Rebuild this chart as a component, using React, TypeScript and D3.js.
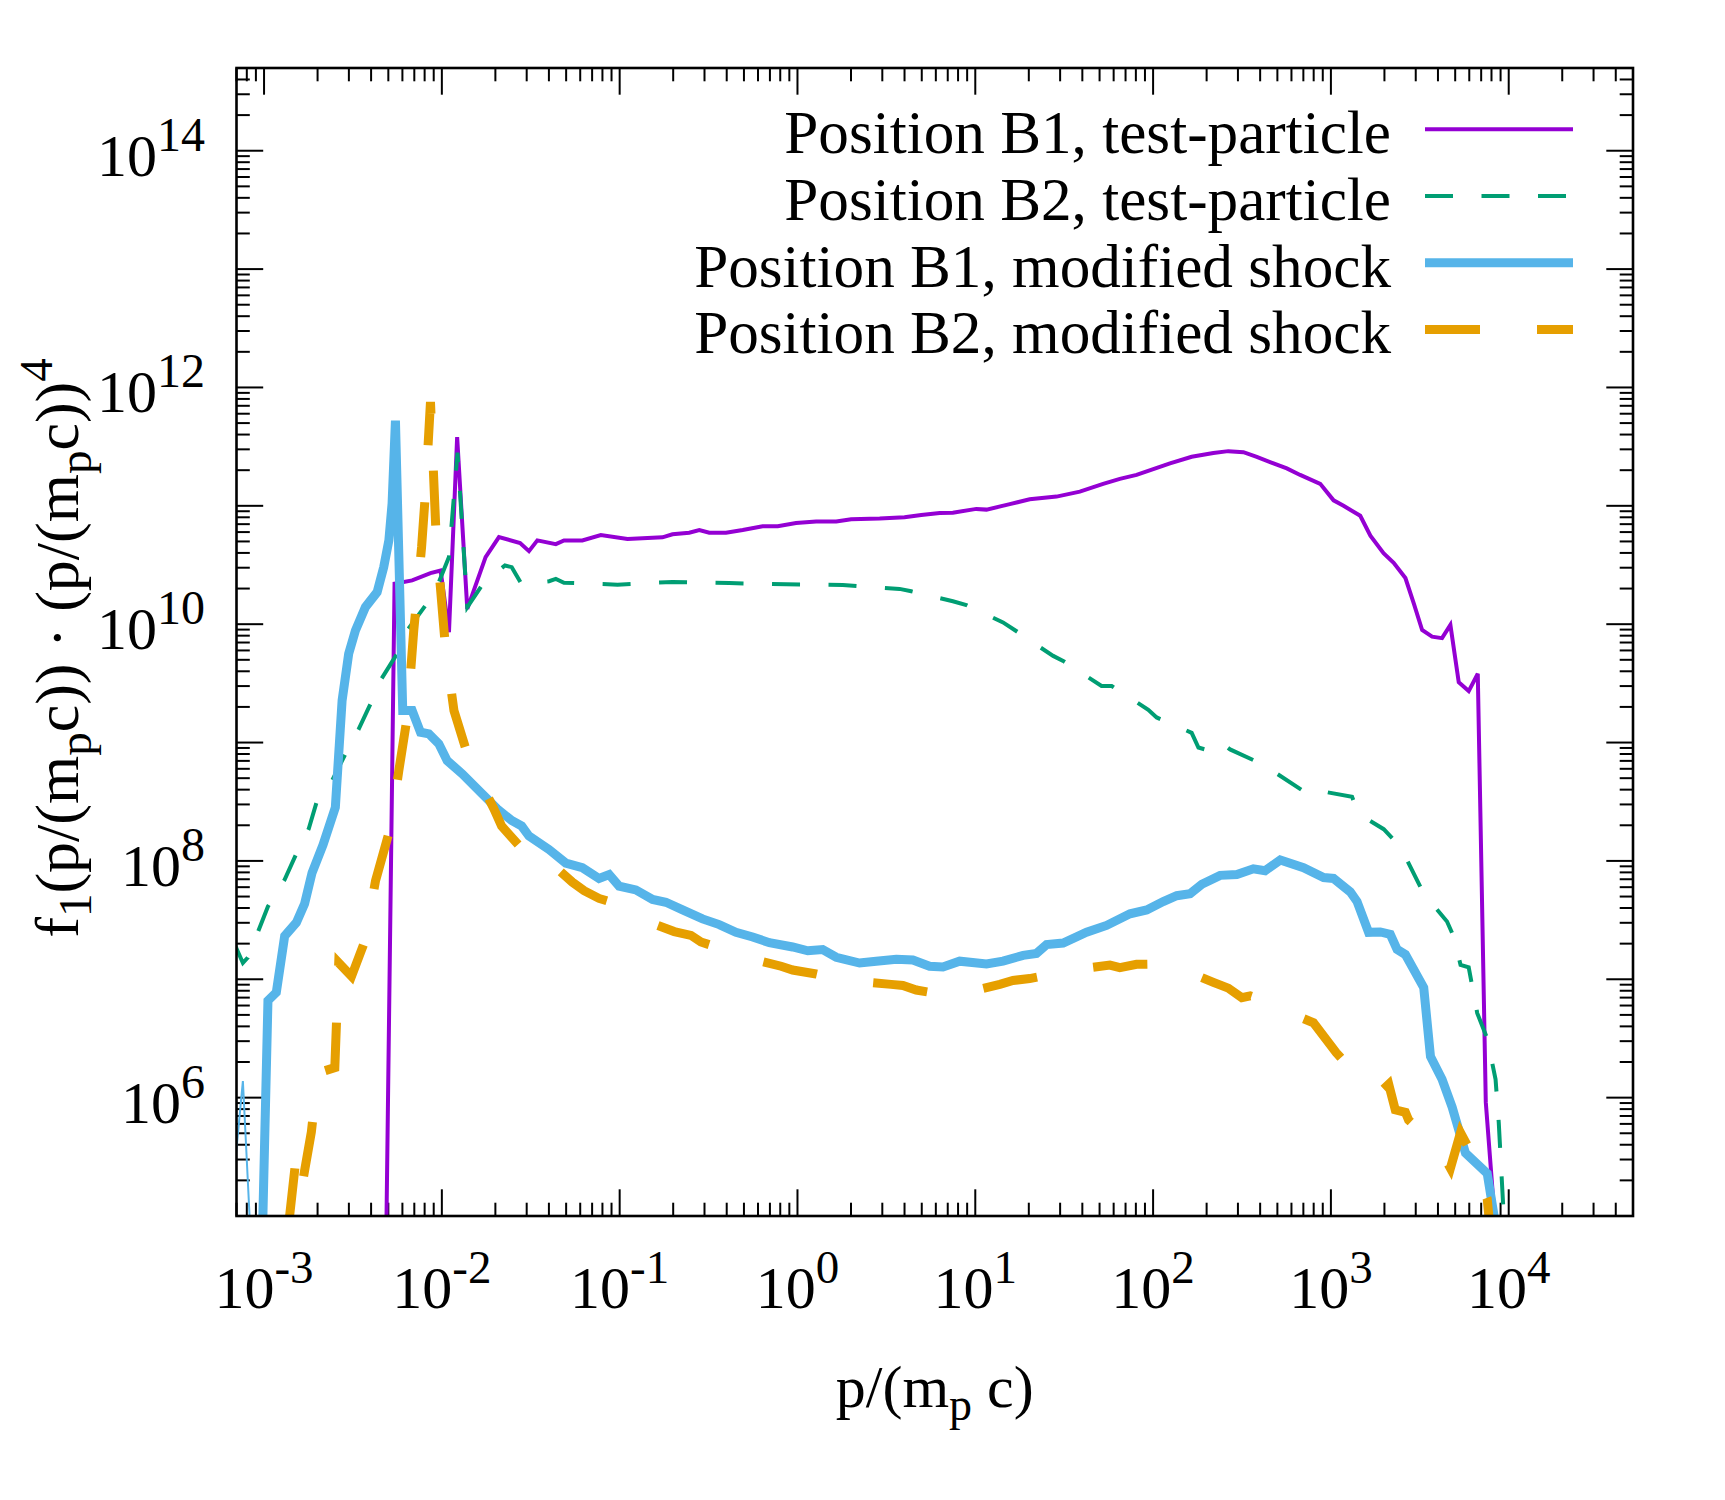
import React from "react";
import * as d3 from "d3";

// Spectra, stored as [log10(p/(m_p c)), log10(f1 * (p/(m_p c))^4)]
const b1TestParticle: [number, number][] = [
  [-2.328, 3.0], [-2.266, 10.342], [-2.167, 10.37], [-2.064, 10.431], [-2.007, 10.454],
  [-1.96, 9.932], [-1.914, 11.58], [-1.857, 10.13], [-1.754, 10.567], [-1.679, 10.736],
  [-1.56, 10.686], [-1.51, 10.617], [-1.463, 10.708], [-1.359, 10.676], [-1.313, 10.708],
  [-1.21, 10.708], [-1.106, 10.753], [-0.956, 10.72], [-0.759, 10.734], [-0.703, 10.76],
  [-0.609, 10.773], [-0.552, 10.796], [-0.496, 10.773], [-0.402, 10.773], [-0.308, 10.796],
  [-0.196, 10.828], [-0.111, 10.828], [-0.008, 10.854], [0.105, 10.867], [0.218, 10.867],
  [0.302, 10.887], [0.462, 10.893], [0.602, 10.903], [0.696, 10.923], [0.8, 10.939],
  [0.874, 10.942], [1.006, 10.974], [1.063, 10.968], [1.194, 11.014], [1.306, 11.056],
  [1.457, 11.078], [1.588, 11.12], [1.719, 11.186], [1.813, 11.228], [1.907, 11.261],
  [2.001, 11.31], [2.095, 11.358], [2.217, 11.414], [2.339, 11.446], [2.423, 11.462],
  [2.508, 11.453], [2.583, 11.414], [2.677, 11.358], [2.752, 11.316], [2.827, 11.261],
  [2.94, 11.186], [3.015, 11.046], [3.071, 11.0], [3.165, 10.916], [3.222, 10.747],
  [3.296, 10.6], [3.353, 10.519], [3.419, 10.39], [3.466, 10.175], [3.513, 9.951],
  [3.569, 9.895], [3.625, 9.882], [3.672, 9.994], [3.719, 9.509], [3.775, 9.435],
  [3.826, 9.581], [3.871, 5.962], [3.925, 4.9],
];

const b2TestParticle: [number, number][] = [
  [-3.166, 7.297], [-3.119, 7.138], [-3.091, 7.184], [-2.978, 7.615], [-2.884, 7.842],
  [-2.815, 8.072], [-2.749, 8.27], [-2.702, 8.509], [-2.636, 8.622], [-2.542, 8.904],
  [-2.467, 9.115], [-2.401, 9.327], [-2.34, 9.538], [-2.252, 9.75], [-2.195, 9.947],
  [-2.092, 10.158], [-2.017, 10.355], [-1.96, 10.567], [-1.912, 11.45], [-1.857, 10.144],
  [-1.763, 10.355], [-1.645, 10.496], [-1.607, 10.482], [-1.551, 10.337], [-1.397, 10.363],
  [-1.359, 10.382], [-1.313, 10.35], [-1.012, 10.334], [-0.703, 10.357], [-0.383, 10.347],
  [-0.064, 10.337], [0.255, 10.331], [0.574, 10.298], [0.64, 10.278], [0.874, 10.194],
  [0.95, 10.161], [1.156, 10.015], [1.232, 9.94], [1.33, 9.84], [1.438, 9.732],
  [1.494, 9.69], [1.71, 9.478], [1.767, 9.478], [1.973, 9.277], [2.02, 9.212],
  [2.217, 9.082], [2.255, 8.958], [2.367, 8.909], [2.405, 8.974], [2.433, 8.942],
  [2.612, 8.818], [2.677, 8.756], [2.869, 8.567], [2.93, 8.594], [3.119, 8.541],
  [3.156, 8.398], [3.297, 8.268], [3.391, 8.12], [3.522, 7.724], [3.653, 7.488],
  [3.691, 7.359], [3.729, 7.122], [3.775, 7.101], [3.823, 6.714], [3.879, 6.499],
  [3.926, 6.155], [3.944, 5.789], [3.972, 5.0], [3.985, 4.5],
];

const b1Modified: [number, number][] = [
  [-3.166, 5.392], [-3.119, 6.14], [-3.065, 4.5], [-3.03, 3.5], [-2.978, 6.82],
  [-2.931, 6.889], [-2.884, 7.365], [-2.818, 7.479], [-2.772, 7.637], [-2.73, 7.9],
  [-2.668, 8.137], [-2.599, 8.453], [-2.561, 9.355], [-2.524, 9.75], [-2.486, 9.947],
  [-2.43, 10.144], [-2.364, 10.271], [-2.327, 10.482], [-2.298, 10.708], [-2.28, 11.018],
  [-2.261, 11.72], [-2.22, 9.27], [-2.167, 9.27], [-2.12, 9.087], [-2.073, 9.073],
  [-2.017, 8.989], [-1.97, 8.847], [-1.885, 8.735], [-1.773, 8.566], [-1.688, 8.439],
  [-1.607, 8.341], [-1.551, 8.295], [-1.51, 8.21], [-1.397, 8.096], [-1.303, 7.982],
  [-1.21, 7.943], [-1.116, 7.852], [-1.059, 7.885], [-1.003, 7.787], [-0.909, 7.755],
  [-0.815, 7.674], [-0.74, 7.651], [-0.646, 7.586], [-0.534, 7.51], [-0.44, 7.462],
  [-0.346, 7.397], [-0.252, 7.357], [-0.158, 7.309], [-0.027, 7.273], [0.058, 7.241],
  [0.142, 7.251], [0.218, 7.186], [0.349, 7.137], [0.443, 7.153], [0.556, 7.169],
  [0.649, 7.163], [0.743, 7.11], [0.818, 7.104], [0.912, 7.153], [1.063, 7.13],
  [1.156, 7.153], [1.269, 7.202], [1.344, 7.218], [1.401, 7.293], [1.494, 7.306],
  [1.626, 7.397], [1.738, 7.455], [1.87, 7.553], [1.964, 7.586], [2.057, 7.657],
  [2.133, 7.706], [2.208, 7.722], [2.274, 7.803], [2.377, 7.878], [2.471, 7.885],
  [2.564, 7.933], [2.63, 7.917], [2.715, 8.008], [2.846, 7.943], [2.959, 7.859],
  [3.015, 7.852], [3.109, 7.738], [3.147, 7.657], [3.212, 7.397], [3.278, 7.4],
  [3.334, 7.38], [3.372, 7.252], [3.419, 7.209], [3.522, 6.929], [3.56, 6.348],
  [3.625, 6.155], [3.682, 5.919], [3.757, 5.531], [3.879, 5.36], [3.95, 4.7],
];

const b2Modified: [number, number][] = [
  [-2.93, 4.0], [-2.822, 5.465], [-2.794, 5.194], [-2.734, 5.709], [-2.697, 6.209],
  [-2.602, 6.254], [-2.58, 7.139], [-2.508, 7.025], [-2.434, 7.319], [-2.373, 7.833],
  [-2.289, 8.283], [-2.242, 8.763], [-2.195, 9.214], [-2.158, 9.947], [-2.114, 10.651],
  [-2.092, 11.116], [-2.064, 11.877], [-2.032, 10.736], [-1.979, 9.792], [-1.932, 9.27],
  [-1.848, 8.862], [-1.707, 8.439], [-1.664, 8.295], [-1.57, 8.137], [-1.495, 8.171],
  [-1.4, 8.0], [-1.266, 7.82], [-1.2, 7.748], [-1.116, 7.683], [-1.059, 7.657],
  [-0.993, 7.598], [-0.85, 7.49], [-0.693, 7.403], [-0.599, 7.371], [-0.543, 7.315],
  [-0.411, 7.251], [-0.25, 7.17], [-0.092, 7.11], [-0.027, 7.078], [0.105, 7.045],
  [0.199, 7.013], [0.36, 6.98], [0.527, 6.957], [0.593, 6.948], [0.668, 6.909],
  [0.818, 6.87], [0.98, 6.9], [1.138, 6.957], [1.212, 6.99], [1.306, 7.006],
  [1.438, 7.045], [1.6, 7.09], [1.757, 7.12], [1.813, 7.098], [1.907, 7.126],
  [2.067, 7.13], [2.2, 7.06], [2.339, 6.974], [2.423, 6.925], [2.499, 6.844],
  [2.546, 6.86], [2.63, 6.818], [2.76, 6.72], [2.902, 6.633], [3.03, 6.38],
  [3.15, 6.18], [3.278, 6.048], [3.325, 6.113], [3.362, 5.897], [3.419, 5.876],
  [3.437, 5.811], [3.53, 5.68], [3.625, 5.531], [3.672, 5.403], [3.729, 5.704],
  [3.775, 5.575], [3.879, 5.145], [3.92, 4.5],
];

const xTickExponents = [-3, -2, -1, 0, 1, 2, 3, 4];
const yLabelExponents = [6, 8, 10, 12, 14];
const legendLabels = [
  "Position B1, test-particle",
  "Position B2, test-particle",
  "Position B1, modified shock",
  "Position B2, modified shock",
];

const W = 1725;
const H = 1500;
const L = 236.5;
const R = 1633;
const T = 68;
const B = 1216;
const FONT = "'Liberation Serif', 'Times New Roman', serif";

const styles = [
  { color: "#9400D3", width: 4, dash: undefined as string | undefined },
  { color: "#009E73", width: 4, dash: "28 28.5" },
  { color: "#56B4E9", width: 9, dash: undefined as string | undefined },
  { color: "#E69F00", width: 9, dash: "55 57" },
];

export default function App() {
  const x = d3.scaleLog().domain([7e-4, 5e4]).range([L, R]);
  const y = d3.scaleLog().domain([1e5, 5e14]).range([B, T]);

  const line = d3
    .line<[number, number]>()
    .x((d) => x(Math.pow(10, d[0])))
    .y((d) => y(Math.pow(10, d[1])));

  // minor / major ticks for every decade
  const xTicks: { v: number; major: boolean }[] = [];
  for (let e = -4; e <= 4; e++) {
    for (let k = 1; k <= 9; k++) {
      const v = k * Math.pow(10, e);
      if (v >= 7e-4 * 0.999 && v <= 5e4 * 1.001) xTicks.push({ v, major: k === 1 });
    }
  }
  const yTicks: { v: number; major: boolean }[] = [];
  for (let e = 5; e <= 14; e++) {
    for (let k = 1; k <= 9; k++) {
      const v = k * Math.pow(10, e);
      if (v >= 1e5 * 0.999 && v <= 5e14 * 1.001) yTicks.push({ v, major: k === 1 });
    }
  }
  const majLen = 26.7;
  const minLen = 13.3;

  const series = [b1TestParticle, b2TestParticle, b1Modified, b2Modified];

  return (
    <svg
      width={W}
      height={H}
      viewBox={`0 0 ${W} ${H}`}
      style={{ position: "absolute", left: 0, top: 0, background: "#fff" }}
      fontFamily={FONT}
    >
      <rect x={0} y={0} width={W} height={H} fill="#fff" />
      <defs>
        <clipPath id="plotClip">
          <rect x={L} y={T} width={R - L} height={B - T} />
        </clipPath>
      </defs>

      {/* ticks on all four sides, pointing inward */}
      <g stroke="#000" strokeWidth={2}>
        {xTicks.map((t, i) => {
          const px = x(t.v);
          const len = t.major ? majLen : minLen;
          return (
            <g key={"xt" + i}>
              <line x1={px} x2={px} y1={B} y2={B - len} />
              <line x1={px} x2={px} y1={T} y2={T + len} />
            </g>
          );
        })}
        {yTicks.map((t, i) => {
          const py = y(t.v);
          const len = t.major ? majLen : minLen;
          return (
            <g key={"yt" + i}>
              <line x1={L} x2={L + len} y1={py} y2={py} />
              <line x1={R} x2={R - len} y1={py} y2={py} />
            </g>
          );
        })}
      </g>

      {/* curves */}
      <g clipPath="url(#plotClip)" fill="none">
        {series.map((s, i) => {
          const st = styles[i];
          if (i === 2) {
            return (
              <g key={"s" + i}>
                <path d={line(s.slice(0, 3)) || ""} stroke={st.color} strokeWidth={2} />
                <path d={line(s.slice(2)) || ""} stroke={st.color} strokeWidth={st.width} />
              </g>
            );
          }
          return (
            <path
              key={"s" + i}
              d={line(s) || ""}
              stroke={st.color}
              strokeWidth={st.width}
              strokeDasharray={st.dash}
            />
          );
        })}
      </g>

      {/* frame */}
      <rect x={L} y={T} width={R - L} height={B - T} fill="none" stroke="#000" strokeWidth={2.6} />

      {/* x tick labels */}
      <g fontSize={60} textAnchor="middle" fill="#000">
        {xTickExponents.map((e) => (
          <text key={"xl" + e} x={x(Math.pow(10, e))} y={1308}>
            10
            <tspan fontSize={47} dy={-25}>
              {String(e)}
            </tspan>
          </text>
        ))}
      </g>

      {/* y tick labels */}
      <g fontSize={60} textAnchor="end" fill="#000">
        {yLabelExponents.map((e) => (
          <text key={"yl" + e} x={205} y={y(Math.pow(10, e)) + 25}>
            10
            <tspan fontSize={48} dy={-25}>
              {String(e)}
            </tspan>
          </text>
        ))}
      </g>

      {/* axis titles */}
      <text x={(L + R) / 2} y={1407} fontSize={60} textAnchor="middle" fill="#000">
        p/(m
        <tspan fontSize={46} dy={13}>p</tspan>
        <tspan dy={-13}> c)</tspan>
      </text>
      <text
        transform={`translate(78,${(T + B) / 2 + 6}) rotate(-90)`}
        fontSize={62}
        textAnchor="middle"
        fill="#000"
      >
        f
        <tspan fontSize={47} dy={13}>1</tspan>
        <tspan dy={-13}>(p/(m</tspan>
        <tspan fontSize={47} dy={13}>p</tspan>
        <tspan dy={-13}>{"c)) \u00B7 (p/(m"}</tspan>
        <tspan fontSize={47} dy={13}>p</tspan>
        <tspan dy={-13}>c))</tspan>
        <tspan fontSize={47} dy={-26}>4</tspan>
      </text>

      {/* legend */}
      {legendLabels.map((lab, i) => {
        const base = 153.3 + i * 66.7;
        const st = styles[i];
        return (
          <g key={"lg" + i}>
            <text x={1391} y={base} fontSize={61.2} textAnchor="end" fill="#000">
              {lab}
            </text>
            <line
              x1={1425}
              x2={1573}
              y1={base - 24}
              y2={base - 24}
              stroke={st.color}
              strokeWidth={st.width}
              strokeDasharray={st.dash}
            />
          </g>
        );
      })}
    </svg>
  );
}
